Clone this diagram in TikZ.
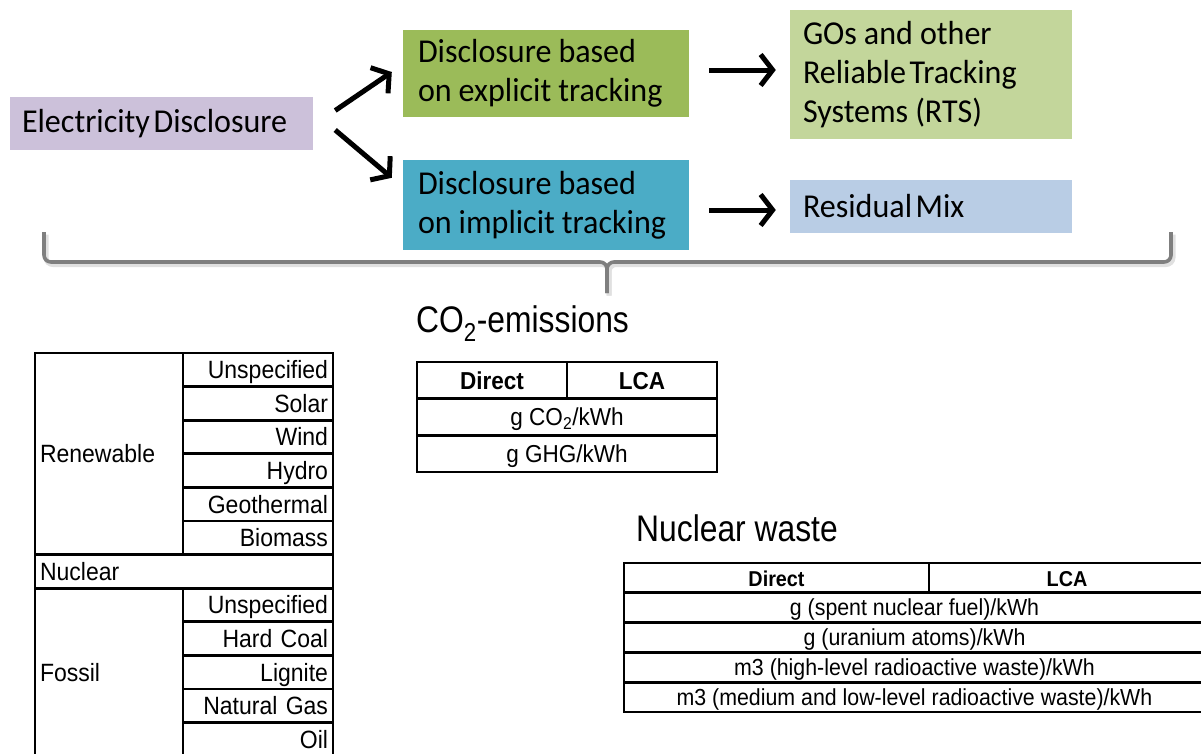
\documentclass[tikz,border=0pt]{standalone}
\usepackage{fontspec}
\setmainfont{Carlito}[FakeStretch=0.96]
\newfontfamily\tabfont{Liberation Sans}[FakeStretch=0.92]
\newfontfamily\headfont{Liberation Sans}[FakeStretch=0.86]
\usepackage{tikz}
\usetikzlibrary{arrows.meta,calc}
\hyphenpenalty=10000
\newcommand\nsp{\hspace{0.11em}}
\definecolor{discpurple}{RGB}{204,193,218}
\definecolor{explgreen}{RGB}{155,187,89}
\definecolor{impteal}{RGB}{75,172,198}
\definecolor{rtsgreen}{RGB}{195,214,155}
\definecolor{mixblue}{RGB}{185,205,229}
\definecolor{bracegrey}{RGB}{127,127,127}
\tikzset{
  flowbox/.style={rectangle, fill=#1, inner xsep=13pt, inner ysep=0pt, align=left, text=black, font=\fontsize{33.4}{39}\selectfont, execute at begin node={\spaceskip=0.21em\relax}},
  arr/.style={-{Straight Barb[length=12pt,width=31pt]}, line width=5pt, draw=black},
  brace/.style={draw=bracegrey, line width=3.6pt, rounded corners=7pt},
  braceshadow/.style={draw=black!12, line width=5pt, rounded corners=7pt},
  heading/.style={inner sep=0pt, anchor=base west, font=\headfont\fontsize{37}{40}\selectfont},
  tabcell/.style={draw, line width=2.8pt, inner ysep=0pt, inner xsep=5pt, font=\tabfont\fontsize{25}{28}\selectfont, text height=18.5pt, text depth=0.6pt},
  subcell/.style={tabcell, minimum height=33.6pt, text width=140pt, align=right},
  groupcell/.style={tabcell, text width=138pt, align=left},
  co2cell/.style={tabcell, font=\tabfont\fontsize{24.5}{27}\selectfont, minimum height=36.7pt, text height=18pt},
  nwcell/.style={tabcell, font=\tabfont\fontsize{23.2}{25}\selectfont, minimum height=29.8pt, text height=17pt},
}
\begin{document}
\begin{tikzpicture}[x=1pt,y=-1pt]
  \useasboundingbox (0,0) rectangle (1201,753);
  % tracking flow
  \node[flowbox=discpurple, inner xsep=12pt, text width=279pt, minimum height=53pt] (ed) at (161.5,123.5) {Electricity\nsp Disclosure};
  \node[flowbox=explgreen, inner xsep=15pt, text width=256pt, minimum height=87pt] (exp) at (546,73.5) {Disclosure based\\on explicit tracking};
  \node[flowbox=impteal, inner xsep=15pt, text width=256pt, minimum height=90pt] (imp) at (546,205) {Disclosure based\\on implicit tracking};
  \node[flowbox=rtsgreen, text width=256pt, minimum height=129pt] (gos) at (931,74.5) {GOs and other\\Reliable\nsp Tracking\\Systems (RTS)};
  \node[flowbox=mixblue, text width=256pt, minimum height=53pt] (res) at (931,206.5) {Residual\nsp Mix};
  \draw[arr] ($(ed.east)+(22,-13)$) -- ($(exp.west)+(-11,-1.5)$);
  \draw[arr] ($(ed.east)+(22,6.5)$) -- ($(imp.north west)+(-11,18)$);
  \draw[arr] ($(exp.east)+(20,-3.5)$) -- ($(exp.east -| gos.west)+(-14,-3.5)$);
  \draw[arr] ($(imp.east)+(20,5)$) -- ($(imp.east -| res.west)+(-14,5)$);
  % brace
  \foreach \s in {0,1}{
    \draw[braceshadow, shift={(2,2.5)}] ({44+1127*\s},232) -- ({44+1127*\s},262) -- (607,262) -- (607,293);
  }
  \foreach \s in {0,1}{
    \draw[brace] ({44+1127*\s},232) -- ({44+1127*\s},262) -- (607,262) -- (607,293);
  }
  % technology table
  \foreach \r/\t in {0/Unspecified,1/Solar,2/Wind,3/Hydro,4/Geothermal,5/Biomass,7/Unspecified,8/Hard Coal,9/Lignite,10/Natural Gas,11/Oil}{
    \node[subcell] (src\r) at (258,{353+33.6*\r+16.8}) {\t};
  }
  \node[groupcell, minimum height=201.6pt] (renew) at (109,453.8) {Renewable};
  \node[groupcell, text width=288pt, minimum height=33.6pt] (nucl) at (184,571.4) {Nuclear};
  \node[groupcell, minimum height=168pt] (fossil) at (109,672.2) {Fossil};
  % CO2 table
  \node[heading] (co2head) at (416,332) {CO\textsubscript{2}-emissions};
  \node[co2cell, minimum width=150pt, font=\tabfont\bfseries\fontsize{24.5}{27}\selectfont] (co2dir) at (492,380.3) {Direct};
  \node[co2cell, minimum width=150pt, font=\tabfont\bfseries\fontsize{24.5}{27}\selectfont] (co2lca) at (642,380.3) {LCA};
  \node[co2cell, minimum width=300pt] (co2g) at (567,417) {g CO\textsubscript{2}/kWh};
  \node[co2cell, minimum width=300pt] (co2ghg) at (567,453.7) {g GHG/kWh};
  % nuclear waste table
  \node[heading] (nwhead) at (636,541) {Nuclear waste};
  \node[nwcell, minimum width=305pt, font=\tabfont\bfseries\fontsize{21.5}{24}\selectfont] (nwdir) at (776.5,577.9) {Direct};
  \node[nwcell, minimum width=276pt, font=\tabfont\bfseries\fontsize{21.5}{24}\selectfont] (nwlca) at (1067,577.9) {LCA};
  \foreach \r/\t in {0/{g (spent nuclear fuel)/kWh},1/{g (uranium atoms)/kWh},2/{m3 (high-level radioactive waste)/kWh},3/{m3 (medium and low-level radioactive waste)/kWh}}{
    \node[nwcell, minimum width=581pt] (nwrow\r) at (914.5,{607.7+29.8*\r}) {\t};
  }
\end{tikzpicture}
\end{document}
